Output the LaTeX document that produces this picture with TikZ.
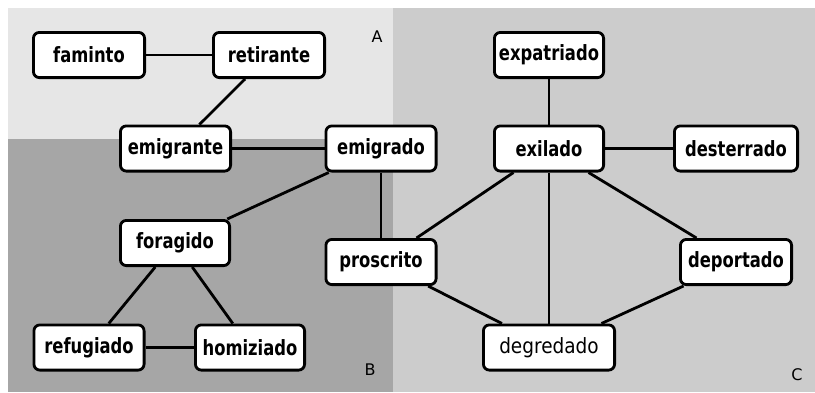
\documentclass[tikz,border=0pt]{standalone}
\usepackage{fontspec}
\newfontfamily\wordfont{DejaVu Sans}[FakeStretch=0.78]
\newfontfamily\plainfont{DejaVu Sans}[FakeStretch=0.88]
\newfontfamily\zonefont{DejaVu Sans}
\definecolor{zoneA}{RGB}{230,230,230}
\definecolor{zoneB}{RGB}{166,166,166}
\definecolor{zoneC}{RGB}{204,204,204}

\begin{document}
\begin{tikzpicture}
[x=1pt,y=-1pt,
  wordBox/.style={shape=rectangle,draw,fill=white,line width=2.8pt,
    rounded corners=6pt,minimum height=45.2pt,inner sep=0pt,
    font=\wordfont\bfseries\fontsize{21}{25}\selectfont},
  linkLine/.style={-,line width=2.8pt},
  zoneLabel/.style={font=\zonefont\fontsize{16}{19}\selectfont}]
\useasboundingbox (0,0) rectangle (815,392);
%% background zones
\fill[white] (0,0) rectangle (815,392);
\fill[zoneA] (8,8) rectangle (393,139);
\fill[zoneB] (8,139) rectangle (393,392);
\fill[zoneC] (393,8) rectangle (815,392);
\node[zoneLabel] (labelA) at (377,37) {A};
\node[zoneLabel] (labelB) at (370,370) {B};
\node[zoneLabel] (labelC) at (797,375) {C};
%% nodes or words
\foreach \nodename/\x/\y/\w in {
  faminto/89/55/111.2, retirante/269/55/111.2,
  emigrante/175.5/148.5/110.2, emigrado/381/148.5/110.2,
  expatriado/549/55/109.2, exilado/549/148.5/109.2,
  desterrado/736/148.5/123.2, foragido/175/243/109.2,
  proscrito/381/262/110.2, refugiado/89/347.5/110.2,
  homiziado/250/347.5/109.2, deportado/736/262/111.2}
{
  \node (\nodename) at (\x,\y) [wordBox,minimum width=\w pt] {\nodename};
}
\node (degredado) at (549,347.5) [wordBox,minimum width=131.2pt,
  font=\plainfont\fontsize{21}{25}\selectfont] {degredado};
%% edges or links
\path
\foreach \startnode/\endnode in {faminto/retirante, retirante/emigrante,
  emigrante/emigrado, emigrado/foragido, emigrado/proscrito,
  foragido/refugiado, foragido/homiziado, refugiado/homiziado,
  expatriado/exilado, exilado/desterrado, exilado/proscrito,
  exilado/degredado, exilado/deportado, proscrito/degredado,
  deportado/degredado}
{
  (\startnode) edge[linkLine] (\endnode)
};
\end{tikzpicture}
\end{document}
